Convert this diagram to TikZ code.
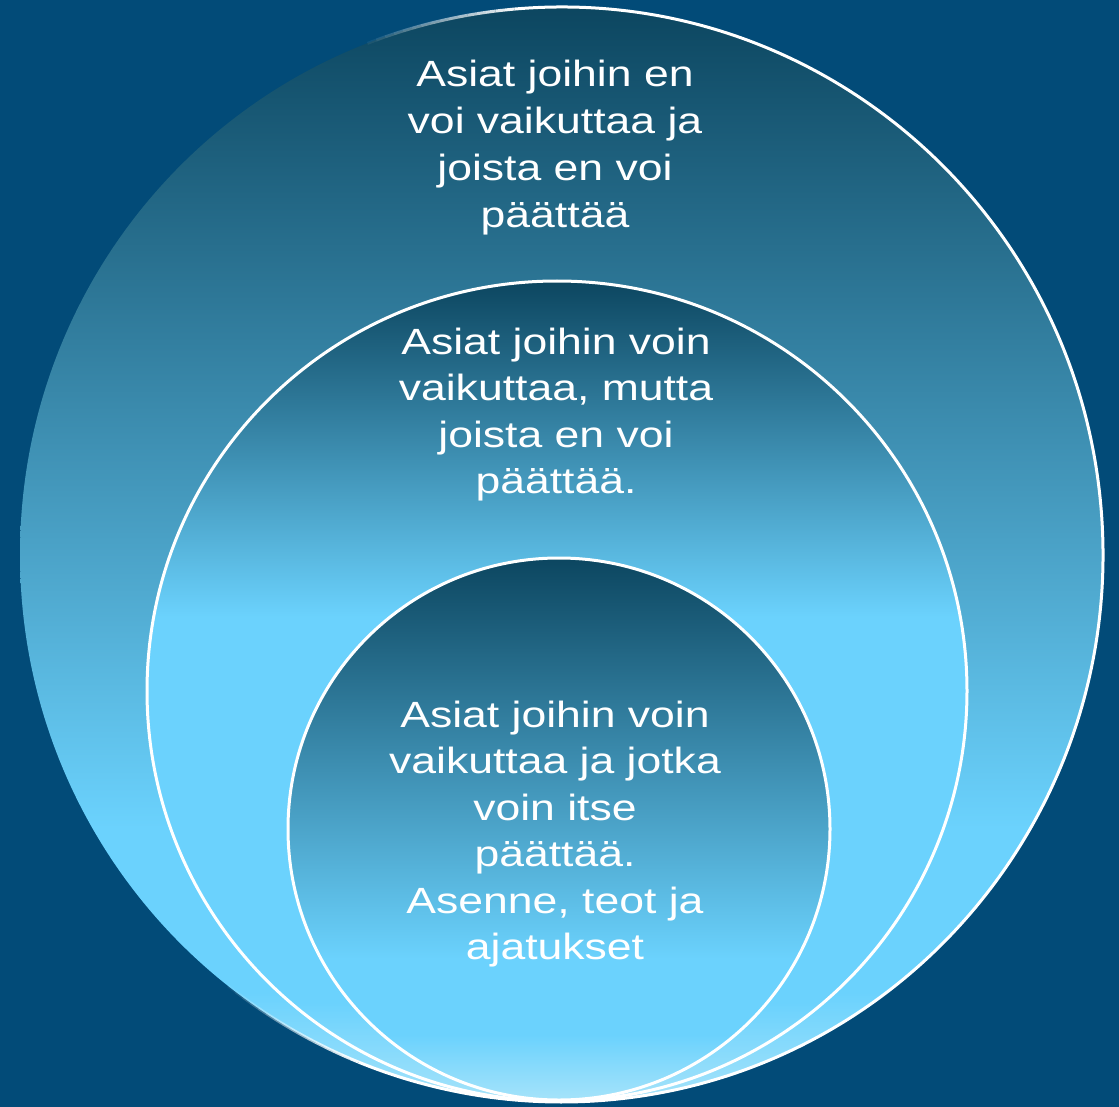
\documentclass[tikz,border=0pt]{standalone}
\usepackage{fontspec}
\setmainfont{Liberation Sans}
\definecolor{bg}{RGB}{2,75,120}
\definecolor{dk}{RGB}{12,70,96}
\definecolor{lt}{RGB}{107,210,253}
\definecolor{ltb}{RGB}{165,227,250}
\pgfdeclareverticalshading{outershade}{100bp}{color(0bp)=(ltb); color(25bp)=(ltb); color(30bp)=(lt); color(37.5bp)=(lt); color(75bp)=(dk); color(100bp)=(dk)}
\pgfdeclareverticalshading{middleshade}{100bp}{color(0bp)=(ltb); color(25bp)=(ltb); color(31bp)=(lt); color(54.5bp)=(lt); color(75bp)=(dk); color(100bp)=(dk)}
\pgfdeclareverticalshading{innershade}{100bp}{color(0bp)=(ltb); color(25bp)=(ltb); color(31bp)=(lt); color(38bp)=(lt); color(75bp)=(dk); color(100bp)=(dk)}
\newcommand\sxtext[1]{\scalebox{1.22}[1]{#1}}
\tikzset{
  ringline/.style={draw=white, line width=3pt},
  lbl/.style={text=white, anchor=base, inner sep=0pt, font=\fontsize{36.5}{47}\selectfont},
}
\begin{document}
\begin{tikzpicture}[x=1pt,y=1pt]
\fill[bg] (0,0) rectangle (1119,-1107);
\useasboundingbox (0,0) rectangle (1119,-1107);
% outer
\coordinate (oc) at (561.5,-554.5);
\shade[shading=outershade] (oc) ellipse [x radius=541.5, y radius=547.5];
\draw[draw=white, line width=3pt] (oc) ++(95:541.5 and 547.5) arc[start angle=95, end angle=-112, x radius=541.5, y radius=547.5];
\foreach \k in {1,...,16}{
  \pgfmathsetmacro\op{1-\k/17}
  \draw[draw=white, line width=3pt, draw opacity=\op] (oc) ++({95+\k-1}:541.5 and 547.5) arc[start angle={95+\k-1}, end angle={95+\k}, x radius=541.5, y radius=547.5];
  \draw[draw=white, line width=3pt, draw opacity=\op] (oc) ++({-112-\k+1}:541.5 and 547.5) arc[start angle={-112-\k+1}, end angle={-112-\k}, x radius=541.5, y radius=547.5];
}
% middle
\coordinate (mc) at (557,-691);
\shade[shading=middleshade] (mc) circle[radius=410];
\draw[ringline] (mc) circle[radius=410];
% inner
\coordinate (ic) at (559,-829);
\shade[shading=innershade] (ic) circle[radius=271];
\draw[ringline] (ic) circle[radius=271];
% texts
\node[lbl] (o1) at (555,-87) {\sxtext{Asiat joihin en}};
\node[lbl] (o2) at (555,-134) {\sxtext{voi vaikuttaa ja}};
\node[lbl] (o3) at (555,-181) {\sxtext{joista en voi}};
\node[lbl] (o4) at (555,-228) {\sxtext{päättää}};
\node[lbl] (m1) at (556,-354) {\sxtext{Asiat joihin voin}};
\node[lbl] (m2) at (556,-400) {\sxtext{vaikuttaa, mutta}};
\node[lbl] (m3) at (556,-447) {\sxtext{joista en voi}};
\node[lbl] (m4) at (556,-493) {\sxtext{päättää.}};
\node[lbl] (i1) at (555,-727) {\sxtext{Asiat joihin voin}};
\node[lbl] (i2) at (555,-773.5) {\sxtext{vaikuttaa ja jotka}};
\node[lbl] (i3) at (555,-820) {\sxtext{voin itse}};
\node[lbl] (i4) at (555,-866.5) {\sxtext{päättää.}};
\node[lbl] (i5) at (555,-913) {\sxtext{Asenne, teot ja}};
\node[lbl] (i6) at (555,-959.5) {\sxtext{ajatukset}};
\end{tikzpicture}
\end{document}
